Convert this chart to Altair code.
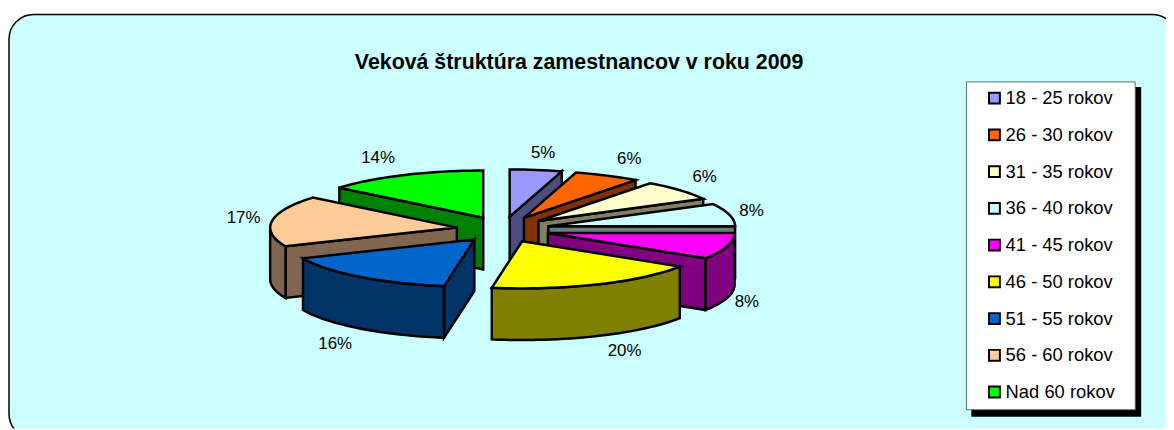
import math
import altair as alt

categories = ["18 - 25 rokov", "26 - 30 rokov", "31 - 35 rokov", "36 - 40 rokov", "41 - 45 rokov",
              "46 - 50 rokov", "51 - 55 rokov", "56 - 60 rokov", "Nad 60 rokov"]
percent_labels = ["5%", "6%", "6%", "8%", "8%", "20%", "16%", "17%", "14%"]
# Sweep of each drawn slice, in percent of the full turn, as measured on the picture
shares = [4.5, 5.7, 7.0, 7.8, 9.0, 18.6, 15.9, 17.5, 14.0]
top_colors = ["#9999FF", "#FF6600", "#FFFFCC", "#CCFFFF", "#FF00FF", "#FFFF00", "#0066CC", "#FFCC99", "#00FF00"]
side_colors = ["#4D4D80", "#803300", "#808066", "#668080", "#800080", "#808000", "#003366", "#806650", "#008000"]
title_text = "Veková štruktúra zamestnancov v roku 2009"

W, H = 1166, 422
CX, CY = 498.5, 221.5    # pie centre, chart pixels
RX, RY = 188, 47.5       # ellipse of a slice
EX, EY = 47, 13          # explosion
DEPTH = 52
LX, LY = 265, 79         # label ellipse
label_dx = [3, 9, 2, -7, -9, 14, -6, 1, -13]
label_dy = [1, 0, -1, 1, -1, -2, 1, 0, 0]


def rim(ax, ay, t, dy=0):
    a = math.radians(t)
    return [ax + RX * math.sin(a), ay - RY * math.cos(a) + dy]


def arc_pts(ax, ay, t0, t1, dy=0):
    n = max(2, int(abs(t1 - t0) / 2) + 1)
    return [rim(ax, ay, t0 + (t1 - t0) * i / (n - 1), dy) for i in range(n)]


def feature(pts, **props):
    ring = pts + [pts[0]]
    return {"type": "Feature", "properties": props,
            "geometry": {"type": "Polygon", "coordinates": [ring]}}


tops, sides, labels = [], [], []
cum = 0.0
total = sum(shares)
for i, v in enumerate(shares):
    t0 = cum / total * 360
    cum += v
    t1 = cum / total * 360
    mid = math.radians((t0 + t1) / 2)
    s, c = math.sin(mid), math.cos(mid)
    ax, ay = CX + EX * s, CY - EY * c
    apex = [ax, ay]
    tops.append(feature([apex] + arc_pts(ax, ay, t0, t1), category=categories[i]))
    order = c
    faces = []
    if math.sin(math.radians(t0)) < -1e-6:
        p = rim(ax, ay, t0)
        faces.append([apex, p, [p[0], p[1] + DEPTH], [ax, ay + DEPTH]])
    if math.sin(math.radians(t1)) > 1e-6 or abs(t1 - 90) < 2:
        p = rim(ax, ay, t1)
        faces.append([apex, p, [p[0], p[1] + DEPTH], [ax, ay + DEPTH]])
    a0, a1 = max(t0, 90), min(t1, 270)
    if a1 > a0:
        faces.append(arc_pts(ax, ay, a0, a1) + arc_pts(ax, ay, a1, a0, DEPTH))
    for f in faces:
        sides.append((order, feature(f, shade=side_colors[i])))
    labels.append({"x": CX + LX * s + label_dx[i],
                   "y": CY - LY * c + (DEPTH if c < 0 else 0) + label_dy[i],
                   "label": percent_labels[i]})

sides = [f for _, f in sorted(sides, key=lambda q: -q[0])]

panel = alt.Chart(alt.Data(values=[{"a": 1}])).mark_rect(
    fill="#CCFFFF", stroke="black", strokeWidth=1.5, cornerRadius=25, clip=True
).encode(x=alt.value(1), x2=alt.value(1177), y=alt.value(5), y2=alt.value(432))

shadow = alt.Chart(alt.Data(values=[{"a": 1}])).mark_rect(fill="black").encode(
    x=alt.value(970), x2=alt.value(1141), y=alt.value(78), y2=alt.value(410))
box = alt.Chart(alt.Data(values=[{"a": 1}])).mark_rect(
    fill="white", stroke="#5a7070", strokeWidth=1).encode(
    x=alt.value(965), x2=alt.value(1135), y=alt.value(73), y2=alt.value(403))

side_layer = alt.Chart(alt.Data(values=sides)).mark_geoshape(
    stroke="black", strokeWidth=2.5, strokeJoin="miter"
).encode(fill=alt.Fill("properties.shade:N", scale=None))

top_layer = alt.Chart(alt.Data(values=tops)).mark_geoshape(
    stroke="black", strokeWidth=2.5, strokeJoin="miter"
).encode(fill=alt.Fill(
    "properties.category:N",
    scale=alt.Scale(domain=categories, range=top_colors),
    legend=alt.Legend(
        title=None, orient="none", legendX=984, legendY=80, padding=0,
        symbolType="square", symbolSize=120, symbolStrokeColor="black", symbolStrokeWidth=2,
        symbolOpacity=1, labelFont="Liberation Sans", labelFontSize=18.5, labelColor="black",
        labelOffset=2, rowPadding=17, labelLimit=200, symbolOffset=0),
))

label_layer = alt.Chart(alt.Data(values=labels)).mark_text(
    font="Liberation Sans", fontSize=17, color="black", baseline="middle", align="center"
).encode(longitude="x:Q", latitude="y:Q", text="label:N")

chart = alt.layer(panel, shadow, box, side_layer, top_layer, label_layer).project(
    type="identity", scale=1, translate=[0, 0]
).resolve_scale(fill="independent").properties(
    width=W, height=H, padding=0, background="white",
    autosize=alt.AutoSizeParams(type="none"),
    title=alt.TitleParams(title_text, font="Liberation Sans", fontSize=21.5, fontWeight="bold",
                          color="black", anchor="middle", frame="group", dx=-8, dy=75,
                          offset=0, baseline="middle"),
).configure_view(stroke=None)

chart.save("out.html", embed_options={"renderer": "svg", "actions": False})
